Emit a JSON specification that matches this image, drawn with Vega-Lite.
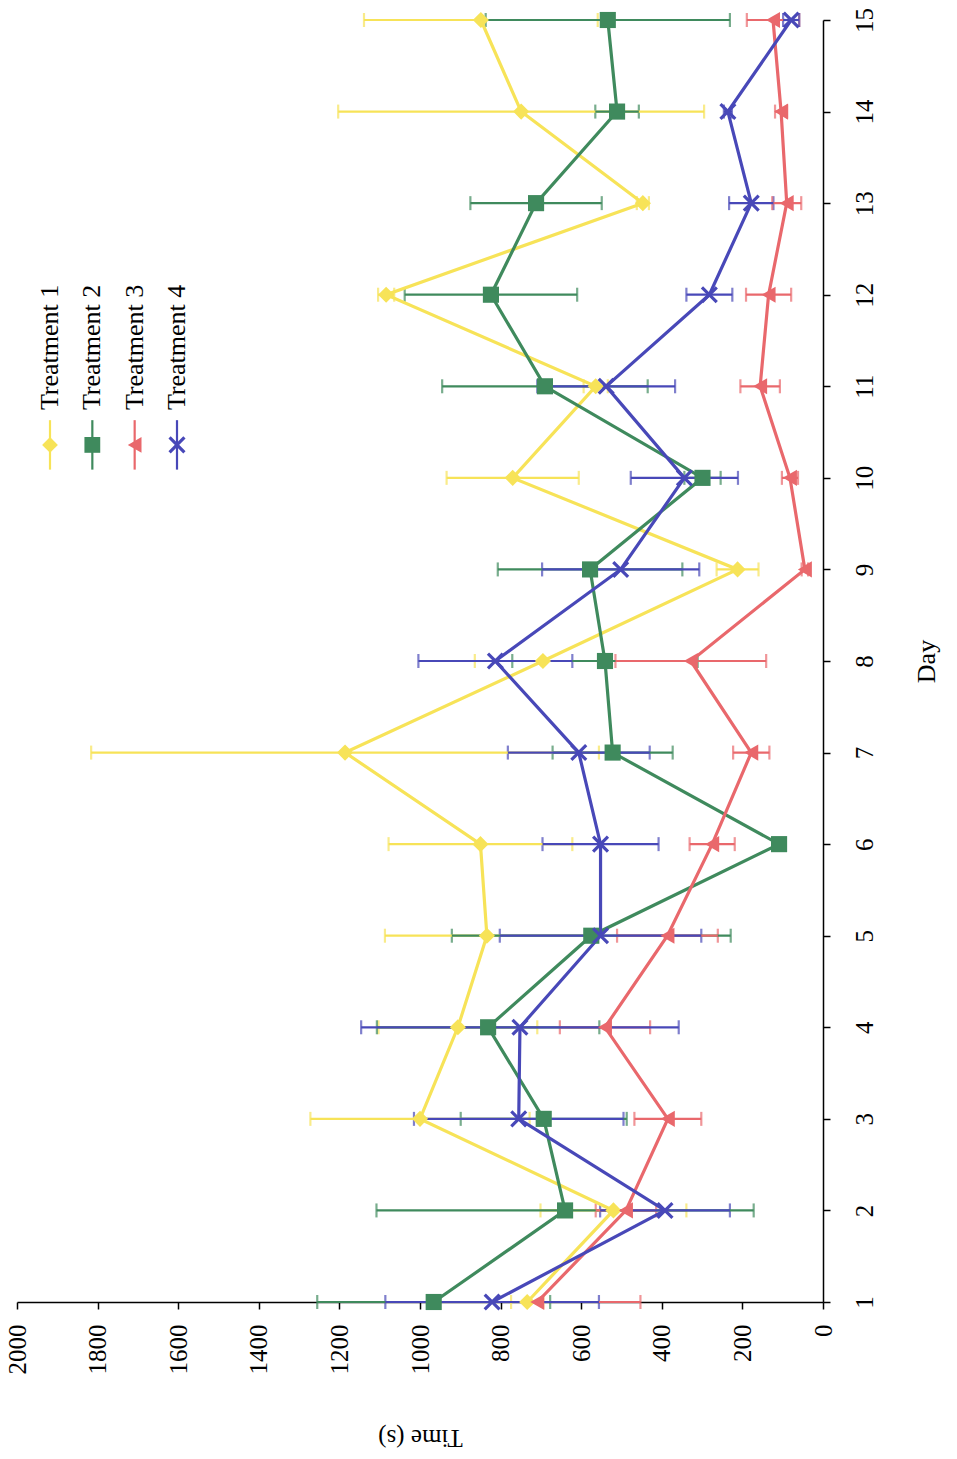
{
  "$schema": "https://vega.github.io/schema/vega-lite/v6.json",
  "width": 806,
  "height": 1282,
  "autosize": {"type": "none"},
  "padding": {"left": 17, "top": 20, "right": 134, "bottom": 157},
  "background": "white",
  "config": {"view": {"stroke": null}, "font": "Liberation Serif"},
  "datasets": {
    "trials": [
      {"series": "Treatment 1", "day": 1, "time": 734, "err": 40},
      {"series": "Treatment 1", "day": 2, "time": 520, "err": 181},
      {"series": "Treatment 1", "day": 3, "time": 1000, "err": 272},
      {"series": "Treatment 1", "day": 4, "time": 906, "err": 197},
      {"series": "Treatment 1", "day": 5, "time": 834, "err": 253},
      {"series": "Treatment 1", "day": 6, "time": 850, "err": 228},
      {"series": "Treatment 1", "day": 7, "time": 1186, "err": 630},
      {"series": "Treatment 1", "day": 8, "time": 695, "err": 169},
      {"series": "Treatment 1", "day": 9, "time": 212, "err": 52},
      {"series": "Treatment 1", "day": 10, "time": 770, "err": 164},
      {"series": "Treatment 1", "day": 11, "time": 564, "err": 30},
      {"series": "Treatment 1", "day": 12, "time": 1084, "err": 20},
      {"series": "Treatment 1", "day": 13, "time": 447, "err": 15},
      {"series": "Treatment 1", "day": 14, "time": 749, "err": 454},
      {"series": "Treatment 1", "day": 15, "time": 849, "err": 290},
      {"series": "Treatment 2", "day": 1, "time": 966, "err": 289},
      {"series": "Treatment 2", "day": 2, "time": 640, "err": 468},
      {"series": "Treatment 2", "day": 3, "time": 693, "err": 206},
      {"series": "Treatment 2", "day": 4, "time": 831, "err": 276},
      {"series": "Treatment 2", "day": 5, "time": 575, "err": 346},
      {"series": "Treatment 2", "day": 6, "time": 109, "err": 15},
      {"series": "Treatment 2", "day": 7, "time": 522, "err": 149},
      {"series": "Treatment 2", "day": 8, "time": 541, "err": 230},
      {"series": "Treatment 2", "day": 9, "time": 578, "err": 229},
      {"series": "Treatment 2", "day": 10, "time": 299, "err": 45},
      {"series": "Treatment 2", "day": 11, "time": 690, "err": 255},
      {"series": "Treatment 2", "day": 12, "time": 824, "err": 214},
      {"series": "Treatment 2", "day": 13, "time": 712, "err": 163},
      {"series": "Treatment 2", "day": 14, "time": 511, "err": 54},
      {"series": "Treatment 2", "day": 15, "time": 534, "err": 303},
      {"series": "Treatment 3", "day": 1, "time": 709, "err": 256},
      {"series": "Treatment 3", "day": 2, "time": 489, "err": 75},
      {"series": "Treatment 3", "day": 3, "time": 385, "err": 83},
      {"series": "Treatment 3", "day": 4, "time": 541, "err": 112},
      {"series": "Treatment 3", "day": 5, "time": 386, "err": 125},
      {"series": "Treatment 3", "day": 6, "time": 275, "err": 56},
      {"series": "Treatment 3", "day": 7, "time": 178, "err": 45},
      {"series": "Treatment 3", "day": 8, "time": 328, "err": 187},
      {"series": "Treatment 3", "day": 9, "time": 45, "err": 8},
      {"series": "Treatment 3", "day": 10, "time": 82, "err": 20},
      {"series": "Treatment 3", "day": 11, "time": 156, "err": 49},
      {"series": "Treatment 3", "day": 12, "time": 135, "err": 56},
      {"series": "Treatment 3", "day": 13, "time": 90, "err": 36},
      {"series": "Treatment 3", "day": 14, "time": 104, "err": 15},
      {"series": "Treatment 3", "day": 15, "time": 124, "err": 65},
      {"series": "Treatment 4", "day": 1, "time": 821, "err": 265},
      {"series": "Treatment 4", "day": 2, "time": 392, "err": 161},
      {"series": "Treatment 4", "day": 3, "time": 755, "err": 260},
      {"series": "Treatment 4", "day": 4, "time": 752, "err": 394},
      {"series": "Treatment 4", "day": 5, "time": 552, "err": 250},
      {"series": "Treatment 4", "day": 6, "time": 552, "err": 144},
      {"series": "Treatment 4", "day": 7, "time": 606, "err": 176},
      {"series": "Treatment 4", "day": 8, "time": 813, "err": 191},
      {"series": "Treatment 4", "day": 9, "time": 502, "err": 195},
      {"series": "Treatment 4", "day": 10, "time": 344, "err": 133},
      {"series": "Treatment 4", "day": 11, "time": 538, "err": 171},
      {"series": "Treatment 4", "day": 12, "time": 282, "err": 57},
      {"series": "Treatment 4", "day": 13, "time": 178, "err": 55},
      {"series": "Treatment 4", "day": 14, "time": 236, "err": 10},
      {"series": "Treatment 4", "day": 15, "time": 79, "err": 20}
    ],
    "legendItems": [
      {"series": "Treatment 1"},
      {"series": "Treatment 2"},
      {"series": "Treatment 3"},
      {"series": "Treatment 4"}
    ]
  },
  "layer": [
    {
      "data": {"name": "trials"},
      "encoding": {
        "x": {
          "field": "time",
          "type": "quantitative",
          "scale": {"domain": [0, 2000], "reverse": true, "nice": false},
          "axis": {
            "orient": "bottom",
            "values": [0, 200, 400, 600, 800, 1000, 1200, 1400, 1600, 1800, 2000],
            "format": "d",
            "grid": false,
            "domainColor": "black",
            "domainWidth": 1.5,
            "tickColor": "black",
            "tickWidth": 1.5,
            "tickSize": 7,
            "labelAngle": 270,
            "labelAlign": "right",
            "labelBaseline": "middle",
            "labelPadding": 15,
            "labelFontSize": 25,
            "labelColor": "black",
            "labelFont": "Liberation Serif",
            "title": "Time (s)",
            "titleAngle": 180,
            "titleBaseline": "bottom",
            "titlePadding": 50,
            "titleFontSize": 25,
            "titleFontWeight": "normal",
            "titleColor": "black",
            "titleFont": "Liberation Serif"
          }
        },
        "y": {
          "field": "day",
          "type": "quantitative",
          "scale": {"domain": [1, 15], "nice": false, "zero": false},
          "axis": {
            "orient": "right",
            "values": [1, 2, 3, 4, 5, 6, 7, 8, 9, 10, 11, 12, 13, 14, 15],
            "format": "d",
            "grid": false,
            "domainColor": "black",
            "domainWidth": 1.5,
            "tickColor": "black",
            "tickWidth": 1.5,
            "tickSize": 7,
            "labelAngle": 270,
            "labelAlign": "center",
            "labelBaseline": "top",
            "labelPadding": 22,
            "labelFontSize": 25,
            "labelColor": "black",
            "labelFont": "Liberation Serif",
            "title": "Day",
            "titleAngle": 270,
            "titleBaseline": "top",
            "titlePadding": 36,
            "titleFontSize": 26,
            "titleFontWeight": "normal",
            "titleColor": "black",
            "titleFont": "Liberation Serif"
          }
        },
        "color": {
          "field": "series",
          "type": "nominal",
          "scale": {
            "domain": ["Treatment 1", "Treatment 2", "Treatment 3", "Treatment 4"],
            "range": ["#F7E358", "#3F8A5D", "#E9686C", "#4848B8"]
          },
          "legend": null
        },
        "shape": {
          "field": "series",
          "type": "nominal",
          "scale": {
            "domain": ["Treatment 1", "Treatment 2", "Treatment 3", "Treatment 4"],
            "range": ["diamond", "square", "triangle-left", "M-1,-1L1,1M-1,1L1,-1"]
          },
          "legend": null
        }
      },
      "layer": [
        {
          "mark": {"type": "errorbar", "ticks": {"size": 14}, "thickness": 2.2},
          "encoding": {"xError": {"field": "err"}, "shape": null}
        },
        {
          "mark": {"type": "line", "strokeWidth": 3.2},
          "encoding": {"order": {"field": "day", "type": "quantitative"}, "shape": null}
        },
        {
          "transform": [{"filter": "datum.series !== 'Treatment 4'"}],
          "mark": {"type": "point", "filled": true, "opacity": 1, "size": 260}
        },
        {
          "transform": [{"filter": "datum.series === 'Treatment 4'"}],
          "mark": {"type": "point", "filled": false, "opacity": 1, "size": 220, "strokeWidth": 3.2}
        }
      ]
    },
    {
      "data": {"name": "legendItems"},
      "encoding": {
        "x": {
          "field": "series",
          "type": "nominal",
          "scale": {"type": "point", "range": [33, 160], "padding": 0},
          "axis": null
        },
        "color": {"field": "series", "type": "nominal", "legend": null},
        "shape": {"field": "series", "type": "nominal", "legend": null}
      },
      "layer": [
        {
          "mark": {"type": "rule", "strokeWidth": 2.2},
          "encoding": {
            "y": {"datum": 10.09, "type": "quantitative"},
            "y2": {"datum": 10.63},
            "shape": null
          }
        },
        {
          "transform": [{"filter": "datum.series !== 'Treatment 4'"}],
          "mark": {"type": "point", "filled": true, "opacity": 1, "size": 250},
          "encoding": {"y": {"datum": 10.36, "type": "quantitative"}}
        },
        {
          "transform": [{"filter": "datum.series === 'Treatment 4'"}],
          "mark": {"type": "point", "filled": false, "opacity": 1, "size": 220, "strokeWidth": 3.2},
          "encoding": {"y": {"datum": 10.36, "type": "quantitative"}}
        },
        {
          "mark": {
            "type": "text",
            "angle": 270,
            "align": "left",
            "baseline": "middle",
            "fontSize": 26,
            "font": "Liberation Serif",
            "color": "black"
          },
          "encoding": {
            "y": {"datum": 10.74, "type": "quantitative"},
            "text": {"field": "series"},
            "color": {"value": "black"},
            "shape": null
          }
        }
      ]
    }
  ],
  "resolve": {"scale": {"x": "independent"}}
}
